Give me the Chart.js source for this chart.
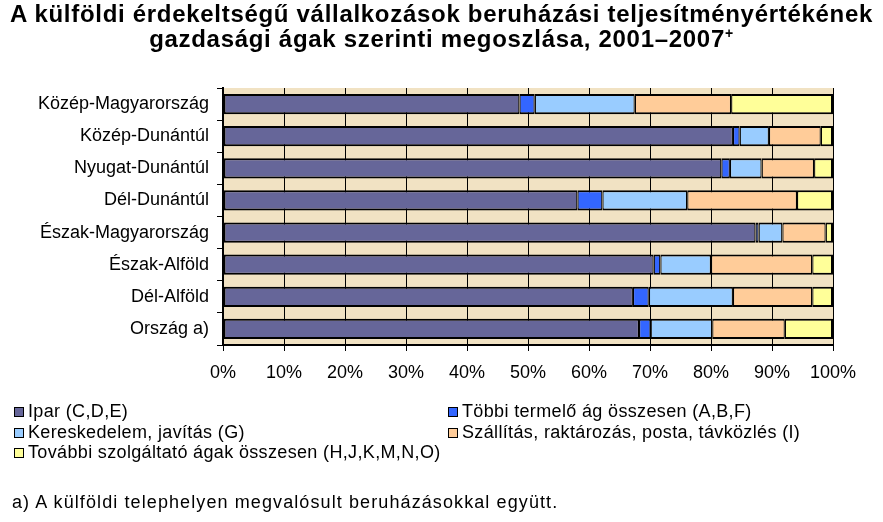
<!DOCTYPE html>
<html lang="hu">
<head>
  <meta charset="UTF-8">
  <title>Beruházási teljesítményérték gazdasági ágak szerint</title>
  <style>
    body {
      margin: 0;
      background: #ffffff;
      font-family: "Liberation Sans", Arial, sans-serif;
      color: #000;
    }

    .page {
      position: relative;
      width: 883px;
      height: 522px;
      overflow: hidden;
    }

    .page canvas {
      position: absolute;
      left: 0;
      top: 0;
    }

    .title {
      position: absolute;
      left: 0;
      top: 1px;
      width: 883px;
      text-align: center;
      font-weight: bold;
      font-size: 24px;
      line-height: 25px;
      letter-spacing: 0.7px;
    }

    .title sup {
      font-size: 14px;
      line-height: 0;
    }

    .legend {
      position: absolute;
      top: 401px;
      left: 0;
      width: 883px;
      font-size: 18px;
      letter-spacing: 0.35px;
    }

    .legend .item {
      position: absolute;
      white-space: nowrap;
      line-height: 20px;
    }

    .legend .box {
      display: inline-block;
      width: 8px;
      height: 8px;
      border: 1px solid #000;
      margin-right: 4px;
      vertical-align: 0;
    }

    .note {
      position: absolute;
      left: 12px;
      top: 492px;
      font-size: 18px;
      line-height: 20px;
      letter-spacing: 1.1px;
    }
  </style>
</head>
<body>
  <div class="page">
    <canvas id="chart" width="883" height="522"></canvas>
    <div class="title">A külföldi érdekeltségű vállalkozások beruházási teljesítményértékének<br>gazdasági ágak szerinti megoszlása, 2001–2007<sup>+</sup></div>
    <div class="legend" id="legend"></div>
    <div class="note">a) A külföldi telephelyen megvalósult beruházásokkal együtt.</div>
  </div>

  <script src="https://cdn.jsdelivr.net/npm/chart.js"></script>
  <script>
    // regions (top to bottom)
    const regions = [
      'Közép-Magyarország',
      'Közép-Dunántúl',
      'Nyugat-Dunántúl',
      'Dél-Dunántúl',
      'Észak-Magyarország',
      'Észak-Alföld',
      'Dél-Alföld',
      'Ország a)'
    ];

    // shares in percent
    const ipar         = [48.6, 83.6, 81.7, 58.1, 87.3, 70.6, 67.2, 68.2];
    const tobbiTermelo = [2.5, 1.1, 1.4, 4.1, 0.5, 1.1, 2.6, 1.9];
    const kereskedelem = [16.4, 4.8, 5.2, 13.9, 3.9, 8.3, 13.8, 10.1];
    const szallitas    = [15.8, 8.5, 8.6, 18.0, 7.1, 16.6, 13.0, 11.9];
    const tovabbi      = [16.7, 2.0, 3.1, 5.9, 1.2, 3.4, 3.4, 7.9];

    const xTicks = [0, 10, 20, 30, 40, 50, 60, 70, 80, 90, 100];

    const series = [
      { label: 'Ipar (C,D,E)', data: ipar, color: '#666699' },
      { label: 'Többi termelő ág összesen (A,B,F)', data: tobbiTermelo, color: '#3366ff' },
      { label: 'Kereskedelem, javítás (G)', data: kereskedelem, color: '#99ccff' },
      { label: 'Szállítás, raktározás, posta, távközlés (I)', data: szallitas, color: '#ffcc99' },
      { label: 'További szolgáltató ágak összesen (H,J,K,M,N,O)', data: tovabbi, color: '#ffff99' }
    ];

    // beige plot background
    const plotBackground = {
      id: 'plotBackground',
      beforeDraw(chart) {
        const a = chart.chartArea;
        const c = chart.ctx;
        c.save();
        c.fillStyle = '#f1e2c3';
        c.fillRect(a.left, a.top, a.right - a.left, a.bottom - a.top);
        c.restore();
      }
    };

    const last = series.length - 1;
    const datasets = series.map((s, i) => ({
      label: s.label,
      data: s.data,
      backgroundColor: s.color,
      borderColor: '#000000',
      borderWidth: { top: 2, bottom: 2, left: i === 0 ? 2 : 1.25, right: i === last ? 2 : 1.25 },
      borderSkipped: false,
      barPercentage: 0.63,
      categoryPercentage: 1.0
    }));

    new Chart(document.getElementById('chart'), {
      type: 'bar',
      data: { labels: regions, datasets: datasets },
      options: {
        indexAxis: 'y',
        responsive: false,
        animation: false,
        layout: { padding: { left: 0, right: 50, top: 88, bottom: 137 } },
        plugins: {
          legend: { display: false },
          title: { display: false },
          tooltip: { enabled: false }
        },
        scales: {
          x: {
            stacked: true,
            min: 0,
            max: 100,
            afterBuildTicks: (scale) => { scale.ticks = xTicks.map(v => ({ value: v })); },
            afterFit: (scale) => { scale.height = 40; },
            ticks: {
              callback: (v) => v + '%',
              color: '#000',
              padding: 11,
              maxRotation: 0,
              font: { family: 'Liberation Sans', size: 18 }
            },
            grid: { color: '#000', lineWidth: 1, tickLength: 6 },
            border: { color: '#000', width: 2 }
          },
          y: {
            stacked: true,
            afterFit: (scale) => { scale.width = 223; },
            ticks: {
              color: '#000',
              padding: 8,
              font: { family: 'Liberation Sans', size: 18 }
            },
            grid: { drawOnChartArea: false, color: '#000', tickLength: 6, offset: true },
            border: { color: '#000', width: 2 }
          }
        }
      },
      plugins: [plotBackground]
    });

    // legend in two columns, built from the series
    const legend = document.getElementById('legend');
    const slots = [[14, 0], [448, 0], [14, 20.5], [448, 20.5], [14, 41]];
    series.forEach((s, i) => {
      const item = document.createElement('div');
      item.className = 'item';
      item.style.left = slots[i][0] + 'px';
      item.style.top = slots[i][1] + 'px';
      item.innerHTML = '<span class="box" style="background:' + s.color + '"></span>' + s.label;
      legend.appendChild(item);
    });
  </script>
</body>
</html>
